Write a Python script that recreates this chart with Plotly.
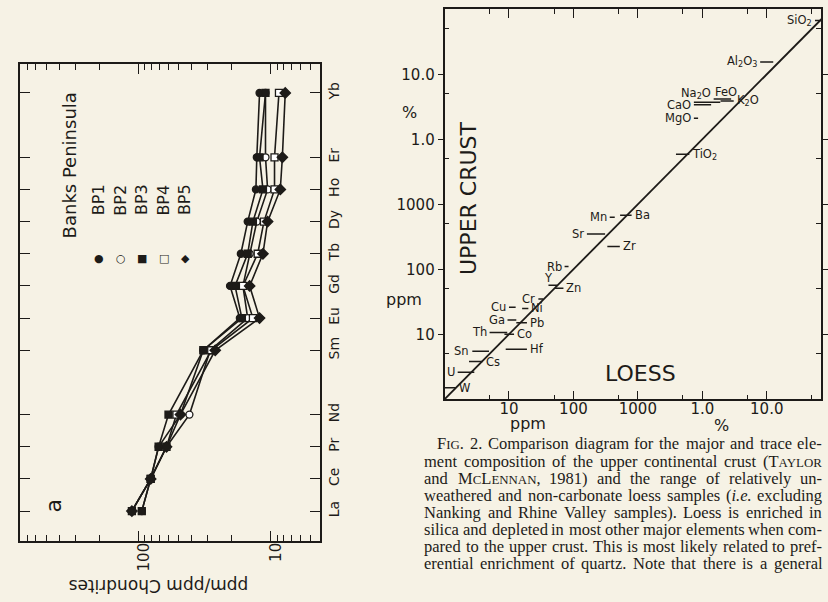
import math
import re
import plotly.graph_objects as go

W, H = 828, 602
BG = "#f6f2e5"
INK = "#1d1b18"
SANS = "DejaVu Sans"
SERIF = "Liberation Serif"

# ---------------- Left panel: REE chondrite-normalised (Banks Peninsula) ----------------
ree_elements = ["La", "Ce", "Pr", "Nd", "Sm", "Eu", "Gd", "Tb", "Dy", "Ho", "Er", "Yb"]
ree_z = [57, 58, 59, 60, 62, 63, 64, 65, 66, 67, 68, 70]
bp1 = [112.8, 81.3, 70.8, 48.4, 32.5, 17.2, 20.4, 16.9, 15.0, 13.0, 12.8, 12.2]
bp2 = [94.9, 81.3, 61.7, 41.4, 28.8, 15.0, 16.3, 14.5, 12.8, 10.6, 11.0, 11.0]
bp3 = [94.9, 81.3, 70.8, 59.6, 32.5, 16.6, 18.7, 15.0, 13.7, 11.5, 12.2, 11.0]
bp4 = [112.8, 81.3, 61.7, 51.9, 28.3, 13.7, 16.3, 12.6, 11.3, 9.4, 9.4, 8.7]
bp5 = [112.8, 81.3, 61.7, 48.4, 26.4, 12.2, 14.5, 11.5, 10.6, 8.5, 8.2, 7.8]
series_names = ["BP1", "BP2", "BP3", "BP4", "BP5"]
value_ticks = [10, 100]
value_tick_text = ["10", "100"]

# ---------------- Right panel: upper crust vs loess ----------------
tr_labels = ["W", "U", "Cs", "Sn", "Hf", "Th", "Co", "Ga", "Pb", "Ni", "Cu", "Cr", "Y", "Zn",
             "Rb", "Sr", "Zr", "Mn", "Ba", "TiO<sub>2</sub>", "MgO", "CaO", "Na<sub>2</sub>O",
             "FeO", "K<sub>2</sub>O", "Al<sub>2</sub>O<sub>3</sub>", "SiO<sub>2</sub>"]
crust_ppm = [1.5, 2.6, 3.8, 5.5, 5.9, 10.7, 10.0, 16.6, 15.0, 25, 26, 35, 57, 51,
             110, 350, 225, 630, 680, 5900, 21000, 34000, 37000, 41700, 39000, 155000, 670000]
loess_lo = [1.0, 1.6, 2.4, 2.7, 8.9, 5.0, 8.5, 9.5, 13, 16, 10, 28.6, 41, 52,
            73, 162, 336, 366, 530, 3900, 7400, 7400, 7400, 15000, 19200, 79000, 560000]
loess_hi = [1.5, 2.9, 3.9, 4.9, 19, 9.4, 12, 13, 19, 20, 12.7, 34, 56, 70,
            84, 310, 525, 438, 800, 6300, 8600, 13700, 19000, 28000, 30700, 126000, 760000]
label_side = ["R", "L", "R", "L", "R", "L", "R", "L", "R", "R", "L", "L", "TL", "R",
              "L", "L", "R", "L", "R", "R", "L", "L", "TC", "T", "R", "L", "L"]
one_to_one = [1, 1e6]
conc_ticks = [10, 100, 1000, 1e4, 1e5]
conc_tick_text = ["10", "100", "1000", "1.0", "10.0"]
conc_minor = [5, 50, 500, 5000, 5e4, 5e5]

# {..} = small capitals, [..] = italic
caption_lines = [
    "F{IG}. 2. Comparison diagram for the major and trace ele-",
    "ment composition of the upper continental crust (T{AYLOR}",
    "and M{C}L{ENNAN}, 1981) and the range of relatively un-",
    "weathered and non-carbonate loess samples ([i.e.] excluding",
    "Nanking and Rhine Valley samples). Loess is enriched in",
    "silica and depleted in most other major elements when com-",
    "pared to the upper crust. This is most likely related to pref-",
    "erential enrichment of quartz. Note that there is a general",
]

# Times / Liberation Serif advance widths (per 1000 em)
TW = {" ": 250, ".": 250, ",": 250, "(": 333, ")": 333, "-": 333, ";": 278, ":": 278}
TW.update({c: 500 for c in "0123456789"})
TW.update(dict(zip("abcdefghijklmnopqrstuvwxyz",
                   [444, 500, 444, 500, 444, 333, 500, 500, 278, 278, 500, 278, 778, 500, 500,
                    500, 500, 333, 389, 278, 500, 500, 722, 500, 500, 444])))
TW.update(dict(zip("ABCDEFGHIJKLMNOPQRSTUVWXYZ",
                   [722, 667, 667, 722, 611, 556, 722, 722, 333, 389, 722, 611, 889, 722, 722,
                    556, 722, 667, 556, 611, 722, 722, 944, 722, 722, 611])))
SC_RATIO = 0.78


def word_parts(word):
    parts = []
    for m in re.finditer(r"\{([^}]*)\}|\[([^\]]*)\]|([^{\[]+)", word):
        if m.group(1) is not None:
            parts.append((m.group(1), "sc"))
        elif m.group(2) is not None:
            parts.append((m.group(2), "it"))
        else:
            parts.append((m.group(3), "n"))
    return parts


def word_width(word, size):
    w = 0.0
    for t, k in word_parts(word):
        f = SC_RATIO if k == "sc" else 1.0
        w += sum(TW.get(c, 500) for c in t) * f
    return w * size / 1000.0


def word_markup(word, size):
    out = ""
    for t, k in word_parts(word):
        if k == "sc":
            out += "<span style='font-size:%.1fpx'>%s</span>" % (size * SC_RATIO, t)
        elif k == "it":
            out += "<i>%s</i>" % t
        else:
            out += t
    return out


def px(x):
    return x / W


def py(y):
    return 1 - y / H


def paper_text(text, x, y, size, angle=0, family=SANS, xanchor="center"):
    return dict(text=text, xref="paper", yref="paper", x=px(x), y=py(y), textangle=angle,
                xanchor=xanchor, yanchor="middle", showarrow=False, borderpad=0,
                font=dict(family=family, size=size, color=INK))


fig = go.Figure()

# ---- left panel traces
symbols = [("circle", INK), ("circle", "white"), ("square", INK), ("square", "white"), ("diamond", INK)]
for name, vals, (sym, fill) in zip(series_names, [bp1, bp2, bp3, bp4, bp5], symbols):
    fig.add_trace(go.Scatter(
        x=vals, y=ree_z, mode="lines+markers", name=name, showlegend=False,
        xaxis="x", yaxis="y",
        line=dict(color=INK, width=1.6),
        marker=dict(symbol=sym, size=8 if sym == "diamond" else 7, color=fill,
                    line=dict(color=INK, width=1.3)),
        cliponaxis=False,
    ))

# ---- right panel traces
fig.add_trace(go.Scatter(x=one_to_one, y=one_to_one, mode="lines", xaxis="x2", yaxis="y2",
                         line=dict(color=INK, width=1.8), showlegend=False))
bx, by = [], []
for c, lo, hi in zip(crust_ppm, loess_lo, loess_hi):
    bx += [lo, hi, None]
    by += [c, c, None]
fig.add_trace(go.Scatter(x=bx, y=by, mode="lines", xaxis="x2", yaxis="y2",
                         line=dict(color=INK, width=1.5), showlegend=False))

ann = []
for lab, c, lo, hi, side in zip(tr_labels, crust_ppm, loess_lo, loess_hi, label_side):
    base = dict(text=lab, xref="x2", yref="y2", y=math.log10(c), showarrow=False, borderpad=0,
                font=dict(family=SANS, size=11.5, color=INK))
    if side == "L":
        base.update(x=math.log10(lo), xanchor="right", yanchor="middle", xshift=-2)
    elif side == "R":
        base.update(x=math.log10(hi), xanchor="left", yanchor="middle", xshift=2)
    elif side == "TL":
        base.update(x=math.log10(lo), xanchor="center", yanchor="bottom", yshift=-1)
    elif side == "TC":
        base.update(x=math.log10(lo), xanchor="center", yanchor="bottom", xshift=2, yshift=0)
    else:
        base.update(x=math.log10(lo), xanchor="left", yanchor="bottom", yshift=-1)
    ann.append(base)

# ---- left panel texts
ann.append(paper_text("Banks Peninsula", 70, 165, 18, -90))
legend_glyphs = ["●", "○", "■", "□", "◆"]
leg_x = [100, 121.7, 143.3, 165, 186.7]
for name, g, lx in zip(series_names, legend_glyphs, leg_x):
    ann.append(paper_text(name, lx, 200, 16, -90))
    ann.append(paper_text(g, lx, 258, 11))
ann.append(paper_text("a", 53, 506, 22, -90))
ann.append(paper_text("ppm/ppm Chondrites", 160, 586, 17, 180))

# ---- right panel texts
ann += [
    paper_text("UPPER CRUST", 472, 198, 22, -90),
    paper_text("LOESS", 646, 373, 22),
    paper_text("%", 413, 112, 16),
    paper_text("ppm", 407, 300, 16),
    paper_text("ppm", 532, 424, 16),
    paper_text("%", 728, 425, 16),
]

# ---- caption, justified word by word
RIGHT = 828
starts = [440] + [427] * (len(caption_lines) - 1)
size = 16.5
for line, x0 in zip(caption_lines, starts):
    words = line.split(" ")
    natural = sum(word_width(w, 1.0) for w in words) + 0.22 * (len(words) - 1)
    size = min(size, (RIGHT - x0) / natural)
for i, (line, x0) in enumerate(zip(caption_lines, starts)):
    words = line.split(" ")
    widths = [word_width(w, size) for w in words]
    gap = (RIGHT - x0 - sum(widths)) / (len(words) - 1)
    x = x0
    for w, ww in zip(words, widths):
        ann.append(paper_text(word_markup(w, size), x, 444 + 17 * i, size, family=SERIF,
                              xanchor="left"))
        x += ww + gap

axis_common = dict(showline=True, linecolor=INK, linewidth=1.6, showgrid=False, zeroline=False,
                   tickcolor=INK, tickwidth=1.3)

fig.update_layout(
    width=W, height=H, margin=dict(l=0, r=0, t=0, b=0),
    paper_bgcolor=BG, plot_bgcolor=BG, showlegend=False,
    annotations=ann,
    xaxis=dict(**axis_common, domain=[px(20), px(323)], anchor="y", type="log",
               range=[2.9, 0.627], tickmode="array", tickvals=value_ticks, ticktext=value_tick_text,
               ticks="inside", ticklen=10, mirror="ticks", tickangle=-90, ticklabelstandoff=-6,
               ticklabelshift=-5,
               tickfont=dict(family=SANS, size=15, color=INK),
               minor=dict(tickmode="array",
                          tickvals=[v * m for m in (1, 10) for v in range(2, 10)] + [200, 300, 400, 500, 600, 700],
                          ticks="inside", ticklen=6, tickcolor=INK, tickwidth=1.2)),
    yaxis=dict(**axis_common, domain=[py(541), py(64)], anchor="x", range=[56.07, 70.9],
               tickmode="array", tickvals=ree_z, ticktext=ree_elements, side="right",
               ticks="inside", ticklen=10, mirror="ticks", tickangle=-90,
               tickfont=dict(family=SANS, size=14, color=INK)),
    xaxis2=dict(**axis_common, domain=[px(448.3), 1.0], anchor="y2", type="log",
                range=[0, (828 - 448.3) / 65], tickmode="array", tickvals=conc_ticks,
                ticktext=conc_tick_text, ticks="inside", ticklen=9, mirror="ticks",
                ticklabelstandoff=-5,
                tickfont=dict(family=SANS, size=15, color=INK),
                minor=dict(tickmode="array", tickvals=conc_minor, ticks="inside", ticklen=5,
                           tickcolor=INK, tickwidth=1.2)),
    yaxis2=dict(**axis_common, domain=[py(399.3), py(9)], anchor="x2", type="log",
                range=[0, (399.3 - 9) / 65], tickmode="array", tickvals=conc_ticks,
                ticktext=conc_tick_text, ticks="outside", ticklen=5, mirror="ticks",
                tickfont=dict(family=SANS, size=15, color=INK),
                minor=dict(tickmode="array", tickvals=conc_minor, ticks="inside", ticklen=5,
                           tickcolor=INK, tickwidth=1.2)),
)

fig.write_html("out.html", config={"displayModeBar": False},
               post_script="document.body.style.margin='0';")
